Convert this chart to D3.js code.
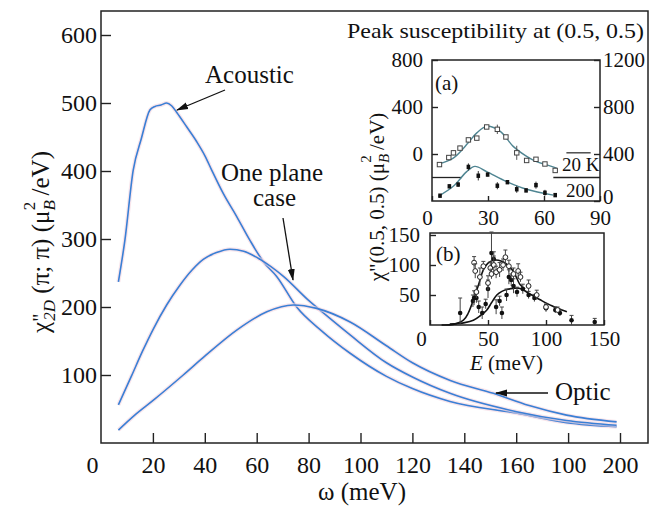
<!DOCTYPE html>
<html>
<head>
<meta charset="utf-8">
<script src="https://cdn.jsdelivr.net/npm/d3@7"></script>
<style>
  body { margin: 0; background: #fff; }
  svg text { font-family: "Liberation Serif", "Times New Roman", Times, serif; fill: #111; }
</style>
</head>
<body>
<div id="chart"></div>
<script>
// main panel: chi''_2D vs omega
const xTicks = [0, 20, 40, 60, 80, 100, 120, 140, 160, 180, 200]
const xTickLabels = ['0', '20', '40', '60', '80', '100', '120', '140', '160', '100', '200']
const yTicks = [100, 200, 300, 400, 500, 600]

const acousticW = [6.7, 9.2, 12.4, 15.5, 18.9, 20.8, 23.1, 25.3, 27.2, 29.2, 33, 36.9, 40.1, 42.7, 47.1, 52.3, 57.4, 62.5, 67.7, 75.4, 85, 96, 110, 120, 134.5, 160, 179.4, 198.7]
const acousticV = [237, 298, 401, 447, 490, 495, 497, 500, 496, 486, 465, 443, 422, 401, 367, 333, 298, 267, 245, 200, 165, 132, 98, 80, 61, 44, 30, 24]
const planeW = [6.7, 11.8, 16, 20.2, 25.3, 30.4, 35, 39.4, 44.5, 49.7, 55, 61.3, 70.3, 79.9, 88, 96, 110, 120, 134.5, 160.2, 179.4, 198.7]
const planeV = [56, 99, 135, 168, 203, 232, 254, 270, 280, 285, 282, 270, 245, 210, 184, 159, 118, 97, 73, 46, 33, 26]
const opticW = [6.7, 13, 20.2, 31.7, 40.1, 52.3, 63.9, 74.1, 83.1, 96, 110, 120, 134.6, 151.2, 165, 179.4, 198.7]
const opticV = [19, 41, 63, 100, 128, 166, 193, 203, 198, 178, 143, 118, 92, 73, 55, 41, 31]

// inset (a): 20 K (left axis) and 200 K (right axis)
const a20E = [4, 9, 11.5, 15, 19.5, 24, 29.3, 35, 39.6, 45.4, 50.7, 55.7, 60.5, 66]
const a20V = [-90, -30, 10, 50, 120, 135, 230, 210, 145, 10, -55, -45, -85, -140]
const a20Err = [10, 15, 20, 20, 15, 15, 15, 40, 15, 60, 15, 15, 10, 10]
const a20FitE = [3.4, 11.4, 19.4, 24, 29.3, 36.4, 43.5, 50.7, 56, 61.4, 66.8]
const a20FitV = [-85, -35, 95, 180, 235, 195, 65, -20, -65, -92, -120]
const a200E = [4.3, 9.3, 14, 19.5, 24.8, 29.8, 35, 40.4, 45.4, 50.4, 55.7, 60.5, 66]
const a200V = [45, 125, 140, 290, 215, 225, 130, 160, 100, 90, 135, 70, 50]
const a200Err = [10, 15, 20, 30, 40, 15, 30, 15, 30, 15, 30, 25, 15]
const a200FitE = [3.4, 11.4, 18.6, 23, 29.3, 40, 50.7, 65]
const a200FitV = [40, 125, 250, 295, 250, 165, 100, 50]

// inset (b)
const bOpenE = [38, 39, 40, 43, 46, 50, 52, 53, 55, 57, 60, 63, 65, 68, 72, 76, 78, 85, 92, 100, 110]
const bOpenV = [104, 90, 55, 80, 98, 70, 95, 85, 100, 88, 92, 100, 113, 98, 85, 90, 80, 65, 50, 30, 25]
const bOpenErr = [10, 12, 10, 15, 8, 12, 10, 8, 15, 10, 12, 10, 12, 10, 10, 12, 8, 10, 8, 5, 5]
const bFillE = [26, 37, 38, 40, 42, 45, 48, 50, 53, 55, 57, 60, 62, 66, 68, 70, 72, 75, 80, 85, 90, 100, 108, 112, 122, 142]
const bFillV = [20, 40, 45, 45, 30, 20, 35, 60, 120, 110, 30, 40, 20, 50, 80, 75, 65, 55, 60, 50, 45, 28, 25, 20, 8, 5]
const bFillErr = [25, 10, 12, 8, 10, 10, 8, 15, 35, 12, 12, 8, 10, 10, 12, 10, 12, 8, 8, 6, 6, 6, 5, 5, 8, 6]
const bFit1E = [10, 20, 28.8, 33, 37.4, 42, 46, 50, 54.7, 59, 63.3, 68, 72, 77.8, 82]
const bFit1V = [0, 1, 8, 20, 42, 68, 92, 103, 108, 108, 105, 98, 89, 67, 60]
const bFit2E = [17, 30, 37.4, 43, 49, 53, 57.6, 62, 66.3, 72, 77.8, 85, 95, 105, 118]
const bFit2V = [1.5, 4, 8, 15, 25, 37, 50, 56, 59, 61, 61, 53, 42, 32, 22]

const width = 650
const height = 508
const blue = '#3a7fd5'
const serif = '"Liberation Serif", "Times New Roman", Times, serif'

const svg = d3.select('#chart').append('svg')
  .attr('width', width)
  .attr('height', height)
  .attr('font-family', serif)

svg.append('defs').append('marker')
  .attr('id', 'arrow')
  .attr('markerUnits', 'userSpaceOnUse')
  .attr('markerWidth', 12).attr('markerHeight', 8)
  .attr('refX', 11).attr('refY', 4)
  .attr('orient', 'auto')
  .append('path').attr('d', 'M0,0.5 L12,4 L0,7.5 z').attr('fill', '#111')

// ---------- main panel ----------
const x = d3.scaleLinear().domain([0, 200]).range([101, 620])
const y = d3.scaleLinear().domain([0, 600]).range([443, 35])

svg.append('rect')
  .attr('x', 101).attr('y', 11).attr('width', 547).attr('height', 432)
  .attr('fill', 'none').attr('stroke', '#222').attr('stroke-width', 1.5)

const xAxis = svg.append('g')
  .attr('transform', 'translate(0,443)')
  .call(d3.axisBottom(x).tickValues(xTicks).tickSize(-10).tickPadding(13)
    .tickFormat((d, i) => xTickLabels[i]))
const yAxis = svg.append('g')
  .attr('transform', 'translate(101,0)')
  .call(d3.axisLeft(y).tickValues(yTicks).tickSize(-10).tickPadding(4))

function styleAxis (g, size) {
  g.attr('font-family', serif)
  g.select('.domain').remove()
  g.selectAll('line').attr('stroke', '#222').attr('stroke-width', 1.4)
  g.selectAll('text').attr('font-size', size).attr('fill', '#111')
}
styleAxis(xAxis, 24)
styleAxis(yAxis, 24)
xAxis.selectAll('.tick').filter(d => d === 0).select('line').remove()
xAxis.selectAll('.tick').filter(d => d === 0).select('text').attr('dx', -9)

const line = d3.line().curve(d3.curveMonotoneX)
const curves = [[acousticW, acousticV], [planeW, planeV], [opticW, opticV]]
for (const [ws, vs] of curves) {
  const pts = ws.map((w, i) => [x(w), y(vs[i])])
  svg.append('path').attr('d', line(pts))
    .attr('fill', 'none').attr('stroke', '#f4d3de').attr('stroke-width', 4).attr('opacity', 0.6)
  svg.append('path').attr('d', line(pts))
    .attr('fill', 'none').attr('stroke', blue).attr('stroke-width', 1.6)
}

// annotations
svg.append('text').attr('x', 205).attr('y', 83).attr('font-size', 25).text('Acoustic')
svg.append('line').attr('x1', 225).attr('y1', 90).attr('x2', 177).attr('y2', 110)
  .attr('stroke', '#111').attr('stroke-width', 1.3).attr('marker-end', 'url(#arrow)')
svg.append('text').attr('x', 221).attr('y', 181).attr('font-size', 25).text('One plane')
svg.append('text').attr('x', 253).attr('y', 206).attr('font-size', 25).text('case')
svg.append('line').attr('x1', 283).attr('y1', 218).attr('x2', 293).attr('y2', 280)
  .attr('stroke', '#111').attr('stroke-width', 1.3).attr('marker-end', 'url(#arrow)')
svg.append('text').attr('x', 555).attr('y', 400).attr('font-size', 25).text('Optic')
svg.append('line').attr('x1', 548).attr('y1', 393).attr('x2', 496).attr('y2', 393)
  .attr('stroke', '#111').attr('stroke-width', 1.3).attr('marker-end', 'url(#arrow)')

// axis titles
svg.append('text').attr('x', 362).attr('y', 500).attr('font-size', 25)
  .attr('text-anchor', 'middle').text('ω (meV)')

const yt = svg.append('text').attr('transform', 'translate(49,242) rotate(-90)')
  .attr('font-size', 25).attr('text-anchor', 'middle')
yt.append('tspan').text('χ')
yt.append('tspan').attr('font-size', 20).attr('dy', -2).text('"')
yt.append('tspan').attr('font-size', 17).attr('font-style', 'italic').attr('dx', -7).attr('dy', 8).text('2D')
yt.append('tspan').attr('dy', -6).text(' (π; π)  (μ')
yt.append('tspan').attr('font-size', 17).attr('font-style', 'italic').attr('dy', 6).text('B')
yt.append('tspan').attr('font-size', 17).attr('dx', -10).attr('dy', -20).text('2')
yt.append('tspan').attr('dy', 14).text(' /eV)')

// ---------- inset title ----------
svg.append('text').attr('x', 347).attr('y', 38).attr('font-size', 22)
  .attr('textLength', 297).attr('lengthAdjust', 'spacingAndGlyphs')
  .text('Peak susceptibility at (0.5, 0.5)')

// ---------- inset (a) ----------
const xa = d3.scaleLinear().domain([0, 90]).range([432, 600])
const yaL = d3.scaleLinear().domain([-400, 800]).range([201, 60])
const yaR = d3.scaleLinear().domain([0, 1200]).range([201, 60])

svg.append('rect').attr('x', 432).attr('y', 60).attr('width', 168).attr('height', 141)
  .attr('fill', 'none').attr('stroke', '#222').attr('stroke-width', 1.5)

const aB = svg.append('g').attr('transform', 'translate(0,201)')
  .call(d3.axisBottom(xa).tickValues([0, 30, 60, 90]).tickSize(-5).tickPadding(9))
const aL = svg.append('g').attr('transform', 'translate(432,0)')
  .call(d3.axisLeft(yaL).tickValues([0, 400, 800]).tickSize(-6).tickPadding(9))
const aR = svg.append('g').attr('transform', 'translate(600,0)')
  .call(d3.axisRight(yaR).tickValues([0, 400, 800, 1200]).tickSize(-6).tickPadding(3)
    .tickFormat(d3.format('d')))
for (const g of [aB, aL, aR]) styleAxis(g, 21)
aB.selectAll('.tick').filter(d => d === 0).select('text').attr('dx', -5)
aR.selectAll('.tick').filter(d => d === 0).select('text').attr('dy', '0.1em')

// broken reference lines
svg.append('line').attr('x1', xa(0)).attr('x2', xa(16)).attr('y1', yaR(200)).attr('y2', yaR(200))
  .attr('stroke', '#222').attr('stroke-width', 1.3)
svg.append('line').attr('x1', xa(65)).attr('x2', xa(90)).attr('y1', yaR(200)).attr('y2', yaR(200))
  .attr('stroke', '#222').attr('stroke-width', 1.3)
svg.append('line').attr('x1', xa(72)).attr('x2', xa(85)).attr('y1', yaR(410)).attr('y2', yaR(410))
  .attr('stroke', '#222').attr('stroke-width', 1.2)

const fitColor = '#4f8592'
const lineA = d3.line().curve(d3.curveCatmullRom)
svg.append('path').attr('d', lineA(a20FitE.map((e, i) => [xa(e), yaL(a20FitV[i])])))
  .attr('fill', 'none').attr('stroke', fitColor).attr('stroke-width', 1.4)
svg.append('path').attr('d', lineA(a200FitE.map((e, i) => [xa(e), yaR(a200FitV[i])])))
  .attr('fill', 'none').attr('stroke', fitColor).attr('stroke-width', 1.4)

a20E.forEach((e, i) => {
  svg.append('line').attr('x1', xa(e)).attr('x2', xa(e))
    .attr('y1', yaL(a20V[i] - a20Err[i])).attr('y2', yaL(a20V[i] + a20Err[i]))
    .attr('stroke', '#555').attr('stroke-width', 1)
  svg.append('rect').attr('x', xa(e) - 2.2).attr('y', yaL(a20V[i]) - 2.2)
    .attr('width', 4.4).attr('height', 4.4).attr('fill', '#fff').attr('stroke', '#444').attr('stroke-width', 1)
})
a200E.forEach((e, i) => {
  svg.append('line').attr('x1', xa(e)).attr('x2', xa(e))
    .attr('y1', yaR(a200V[i] - a200Err[i])).attr('y2', yaR(a200V[i] + a200Err[i]))
    .attr('stroke', '#333').attr('stroke-width', 1)
  svg.append('rect').attr('x', xa(e) - 1.8).attr('y', yaR(a200V[i]) - 2.2)
    .attr('width', 3.6).attr('height', 4.4).attr('fill', '#111')
})

svg.append('text').attr('x', 435).attr('y', 90).attr('font-size', 21).text('(a)')
svg.append('text').attr('x', 562).attr('y', 171).attr('font-size', 19).text('20 K')
svg.append('text').attr('x', 566).attr('y', 197).attr('font-size', 19).text('200')

// ---------- inset (b) ----------
const xb = d3.scaleLinear().domain([0, 150]).range([430, 604])
const yb = d3.scaleLinear().domain([0, 150]).range([325, 235])

svg.append('rect').attr('x', 430).attr('y', 233).attr('width', 174).attr('height', 92)
  .attr('fill', 'none').attr('stroke', '#222').attr('stroke-width', 1.5)

const bB = svg.append('g').attr('transform', 'translate(0,325)')
  .call(d3.axisBottom(xb).tickValues([0, 50, 100, 150]).tickSize(-5).tickPadding(6))
const bL = svg.append('g').attr('transform', 'translate(430,0)')
  .call(d3.axisLeft(yb).tickValues([50, 100, 150]).tickSize(-6).tickPadding(10))
for (const g of [bB, bL]) styleAxis(g, 21)
bB.selectAll('.tick').filter(d => d === 0).select('text').attr('dx', -9)

const lineB = d3.line().curve(d3.curveCatmullRom)
svg.append('path').attr('d', lineB(bFit1E.map((e, i) => [xb(e), yb(bFit1V[i])])))
  .attr('fill', 'none').attr('stroke', '#111').attr('stroke-width', 1.6)
svg.append('path').attr('d', lineB(bFit2E.map((e, i) => [xb(e), yb(bFit2V[i])])))
  .attr('fill', 'none').attr('stroke', '#111').attr('stroke-width', 1.6)

const errbar = (e, v, err) => {
  svg.append('line').attr('x1', xb(e)).attr('x2', xb(e))
    .attr('y1', yb(Math.max(0, v - err))).attr('y2', yb(v + err))
    .attr('stroke', '#444').attr('stroke-width', 1)
  svg.append('line').attr('x1', xb(e) - 2).attr('x2', xb(e) + 2)
    .attr('y1', yb(v + err)).attr('y2', yb(v + err))
    .attr('stroke', '#444').attr('stroke-width', 1)
}
bFillE.forEach((e, i) => {
  errbar(e, bFillV[i], bFillErr[i])
  svg.append('circle').attr('cx', xb(e)).attr('cy', yb(bFillV[i])).attr('r', 2.3).attr('fill', '#111')
})
bOpenE.forEach((e, i) => {
  errbar(e, bOpenV[i], bOpenErr[i])
  svg.append('circle').attr('cx', xb(e)).attr('cy', yb(bOpenV[i])).attr('r', 2.4)
    .attr('fill', '#fff').attr('stroke', '#222').attr('stroke-width', 1)
})

svg.append('text').attr('x', 436).attr('y', 261).attr('font-size', 21).text('(b)')
const et = svg.append('text').attr('x', 470).attr('y', 370).attr('font-size', 21)
et.append('tspan').attr('font-style', 'italic').text('E')
et.append('tspan').text('  (meV)')

// inset shared y title
const it = svg.append('text').attr('transform', 'translate(384,197) rotate(-90)')
  .attr('font-size', 21).attr('text-anchor', 'middle')
it.append('tspan').text('χ"(0.5, 0.5)   (μ')
it.append('tspan').attr('font-size', 15).attr('font-style', 'italic').attr('dy', 5).text('B')
it.append('tspan').attr('font-size', 15).attr('dx', -9).attr('dy', -18).text('2')
it.append('tspan').attr('dy', 13).text(' /eV)')
</script>
</body>
</html>
